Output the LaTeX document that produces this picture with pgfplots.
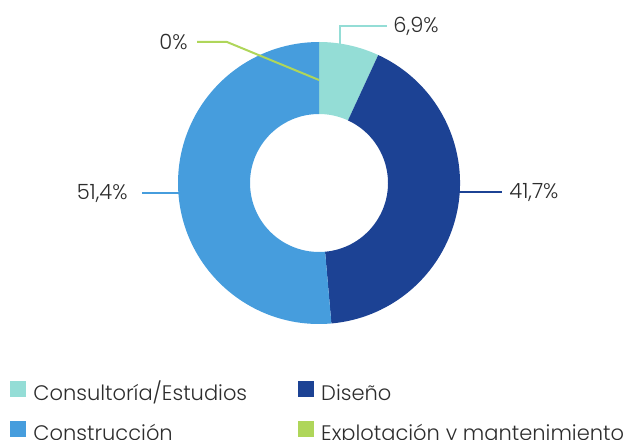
\documentclass[border=0pt]{standalone}
\usepackage{fontspec}
\setmainfont{Poppins}[UprightFont=* Light]
\usepackage{pgfplots}
\usepackage{pgfplotstable}
\pgfplotsset{compat=1.18}

\definecolor{cteal}{RGB}{148,221,214}
\definecolor{cnavy}{RGB}{28,66,148}
\definecolor{cblue}{RGB}{70,157,221}
\definecolor{cgreen}{RGB}{175,214,90}
\definecolor{ctext}{RGB}{45,45,45}

% shares of the total, in percent
\pgfplotstableread[col sep=comma]{
name,value
Consultoría/Estudios,6.9
Diseño,41.7
Construcción,51.4
Explotación y mantenimiento,0
}\shares

\pgfplotstablegetelem{0}{value}\of\shares\let\vA\pgfplotsretval
\pgfplotstablegetelem{1}{value}\of\shares\let\vB\pgfplotsretval
\pgfplotstablegetelem{2}{value}\of\shares\let\vC\pgfplotsretval
\pgfplotstablegetelem{3}{value}\of\shares\let\vD\pgfplotsretval
% slices run clockwise from the top
\pgfmathsetmacro\aA{90-3.6*\vA}
\pgfmathsetmacro\aB{\aA-3.6*\vB}
\pgfmathsetmacro\aC{\aB-3.6*\vC}

\newcommand\Ro{70.5pt}
\newcommand\Ri{34.5pt}
\newcommand\slice[3]{%
  \fill[#3] ([shift={(#1:\Ro)}]c) arc[start angle=#1,end angle=#2,radius=\Ro]
    -- ([shift={(#2:\Ri)}]c) arc[start angle=#2,end angle=#1,radius=\Ri] -- cycle;}
\newcommand\pct[1]{\pgfmathprintnumber[use comma,assume math mode=true]{#1}\%}

\begin{document}
\begin{tikzpicture}
\useasboundingbox (0,0) rectangle (315.5pt,219.5pt);
\clip (0,0) rectangle (315.5pt,219.5pt);
\begin{axis}[
  x=0.5pt, y=0.5pt,
  xmin=0, xmax=631, ymin=0, ymax=439,
  anchor=south west, at={(0,0)},
  hide axis, clip=false,
  legend columns=2,
  legend cell align=left,
  legend image code/.code={\fill[#1,draw=none] (0pt,-1.25pt) rectangle (8pt,6.75pt);},
  legend style={draw=none, fill=none, inner sep=0pt,
    at={(0.01585,0.1321)}, anchor=north west,
    font=\fontsize{10.5}{12}\selectfont, text=ctext,
    nodes={inner sep=0pt, text height=8pt, text depth=2.5pt},
    row sep=8pt,
    /tikz/every odd column/.append style={column sep=3.5pt},
    /tikz/every even column/.append style={column sep=25.5pt}},
]
\addlegendimage{fill=cteal}
\addlegendentry{Consultoría/Estudios}
\addlegendimage{fill=cnavy}
\addlegendentry{Diseño}
\addlegendimage{fill=cblue}
\addlegendentry{Construcción}
\addlegendimage{fill=cgreen}
\addlegendentry{Explotación y mantenimiento}

\coordinate (c) at (axis cs:319,256);
\slice{90}{\aA}{cteal}
\slice{\aA}{\aB}{cnavy}
\slice{\aB}{\aC}{cblue}

% leader lines
\draw[cteal, line width=1pt] (axis cs:340,395) -- (axis cs:340,413) -- (axis cs:387,413);
\draw[cgreen, line width=1pt] (axis cs:319,359) -- (axis cs:227,397) -- (axis cs:197,397);
\draw[cnavy, line width=1pt] (axis cs:455,247) -- (axis cs:502,247);
\draw[cblue, line width=1pt] (axis cs:185,246) -- (axis cs:142,246);

\begin{scope}[every node/.style={inner sep=0pt, text=ctext, font=\fontsize{10.5}{12}\selectfont}]
\node[anchor=base west] at (axis cs:393,406) {\pct{\vA}};
\node[anchor=base west] at (axis cs:509,240) {\pct{\vB}};
\node[anchor=base east] at (axis cs:128,239) {\pct{\vC}};
\node[anchor=base east] at (axis cs:188,389) {\pct{\vD}};
\end{scope}
\end{axis}
\end{tikzpicture}
\end{document}
